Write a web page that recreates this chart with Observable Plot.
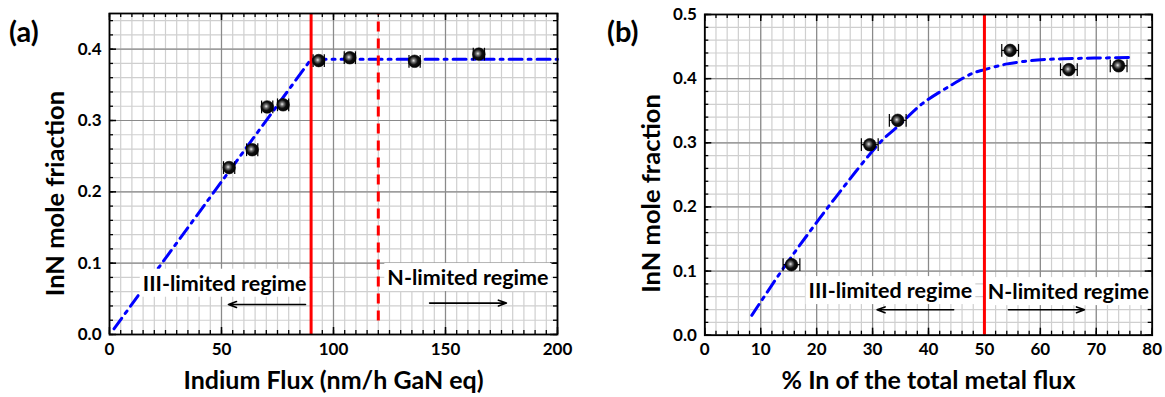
<!DOCTYPE html>
<html><head><meta charset="utf-8">
<script src="https://cdn.jsdelivr.net/npm/d3@7"></script>
<script src="https://cdn.jsdelivr.net/npm/@observablehq/plot@0.6"></script>
<style>
body{margin:0;background:#fff;font-family:Lato,sans-serif;}
#wrap{position:relative;width:1165px;height:397px;overflow:hidden;}
#a{position:absolute;left:0;top:0;}
#b{position:absolute;left:580px;top:0;}
.plabel{position:absolute;font-family:Lato,sans-serif;font-weight:bold;font-size:29px;line-height:1;}
</style></head><body>
<div id="wrap"><div id="a"></div><div id="b"></div>
<div class="plabel" style="left:9px;top:16px">(a)</div>
<div class="plabel" style="left:607px;top:16px">(b)</div></div>
<script>
// ---------- Panel (a) data ----------
const xA = [53.4, 63.7, 70.4, 77.5, 93.4, 107.3, 136.2, 164.9];
const yA = [0.234, 0.259, 0.319, 0.322, 0.384, 0.388, 0.383, 0.393];
const exA = [2.5, 2.5, 2.5, 2.5, 2.5, 2.5, 2.5, 2.5];
const fitXA = [2, 90, 200];
const fitYA = [0.008, 0.386, 0.386];
const xTicksA = [0, 50, 100, 150, 200];
const yTicksA = [0, 0.1, 0.2, 0.3, 0.4];
const limitSolidA = [90];
const limitDashedA = [120];
const labelsA = ["III-limited regime", "N-limited regime"];
const labelXA = [51.4, 160];
const labelYA = [0.071, 0.079];
const arrowFromA = [87.5, 142.9];
const arrowToA = [53.1, 177.2];
const arrowYA = [0.042, 0.044];

// ---------- Panel (b) data ----------
const xB = [15.5, 29.5, 34.5, 54.6, 65.1, 74.0];
const yB = [0.110, 0.297, 0.335, 0.444, 0.414, 0.420];
const exB = [1.5, 1.5, 1.5, 1.5, 1.5, 1.5];
const fitXB = [8.4, 14.1, 18.9, 23.4, 31.5, 34.7, 38.9, 43.9, 47.8, 50.0, 54.1, 59.5, 64.2, 69.6, 76.5];
const fitYB = [0.031, 0.105, 0.163, 0.215, 0.302, 0.327, 0.361, 0.389, 0.408, 0.414, 0.423, 0.429, 0.431, 0.432, 0.433];
const xTicksB = [0, 10, 20, 30, 40, 50, 60, 70, 80];
const yTicksB = [0, 0.1, 0.2, 0.3, 0.4, 0.5];
const limitSolidB = [50];
const labelsB = ["III-limited regime", "N-limited regime"];
const labelXB = [33.2, 65.0];
const labelYB = [0.0686, 0.067];
const arrowFromB = [44.5, 54.3];
const arrowToB = [30.8, 67.9];
const arrowYB = [0.0396, 0.0396];

const FONT = "Lato, sans-serif";
const BLUE = "#0000ff", RED = "#ff0000";

// vertical-bar symbol for error-bar caps
const vbar = { draw(ctx, size) { const h = Math.sqrt(size) * 0.9; ctx.moveTo(0, -h); ctx.lineTo(0, h); } };

function panel(o) {
  const pw = o.W - o.ml - o.mr, ph = o.H - o.mt - o.mb;
  const pts = o.px.map((x, i) => ({x, y: o.py[i], e: o.ex[i]}));
  const fit = o.fx.map((x, i) => ({x, y: o.fy[i]}));
  const ann = o.lab.map((t, i) => ({t, x: o.lx[i], y: o.ly[i]}));
  const arr = o.af.map((x1, i) => ({x1, x2: o.at[i], y: o.ay[i]}));
  const marks = [
    Plot.ruleX(o.xMinor, {stroke: "#cfcfcf", strokeWidth: 1.2}),
    Plot.ruleY(o.yMinor, {stroke: "#cfcfcf", strokeWidth: 1.2}),
    Plot.ruleX(o.xMajor, {stroke: "#8a8a8a", strokeWidth: 1.2}),
    Plot.ruleY(o.yMajor, {stroke: "#8a8a8a", strokeWidth: 1.2}),
    // inward ticks on all four sides
    Plot.ruleX(o.xMinor, {insetTop: ph - 4, stroke: "black", strokeWidth: 1.3}),
    Plot.ruleX(o.xMinor, {insetBottom: ph - 4, stroke: "black", strokeWidth: 1.3}),
    Plot.ruleX(o.xMajor, {insetTop: ph - 7, stroke: "black", strokeWidth: 1.5}),
    Plot.ruleX(o.xMajor, {insetBottom: ph - 7, stroke: "black", strokeWidth: 1.5}),
    Plot.ruleY(o.yMinor, {insetRight: pw - 4, stroke: "black", strokeWidth: 1.3}),
    Plot.ruleY(o.yMinor, {insetLeft: pw - 4, stroke: "black", strokeWidth: 1.3}),
    Plot.ruleY(o.yMajor, {insetRight: pw - 7, stroke: "black", strokeWidth: 1.5}),
    Plot.ruleY(o.yMajor, {insetLeft: pw - 7, stroke: "black", strokeWidth: 1.5}),
    Plot.line(fit, {x: "x", y: "y", stroke: BLUE, strokeWidth: 3, strokeDasharray: "13,6,3,6", curve: o.curve}),
    Plot.text(ann, {x: "x", y: "y", text: "t", fontSize: 21.5, fontWeight: "bold", fill: "black", fontFamily: FONT, ariaDescription: "annot"}),
    ...o.reds,
    Plot.arrow(arr, {x1: "x1", x2: "x2", y1: "y", y2: "y", stroke: "black", strokeWidth: 1.6, headLength: 8, headAngle: 40}),
    Plot.link(pts, {x1: d => d.x - d.e, x2: d => d.x + d.e, y1: "y", y2: "y", stroke: "black", strokeWidth: 1.2}),
    Plot.dot(pts, {x: d => d.x - d.e, y: "y", symbol: vbar, r: 4, stroke: "black", strokeWidth: 1.2}),
    Plot.dot(pts, {x: d => d.x + d.e, y: "y", symbol: vbar, r: 4, stroke: "black", strokeWidth: 1.2}),
    Plot.dot(pts, {x: "x", y: "y", r: 6.3, fill: "url(#ball" + o.id + ")", stroke: "black", strokeWidth: 0.6}),
    Plot.frame({stroke: "black", strokeWidth: 1.8}),
    Plot.axisX({ticks: o.xTicks, tickSize: 0, tickPadding: 8, fontSize: 17, fontWeight: "bold", tickFormat: d => String(d), label: null, fontFamily: FONT}),
    Plot.axisY({ticks: o.yTicks, tickSize: 0, tickPadding: 8, fontSize: 17, fontWeight: "bold", tickFormat: d3.format(".1f"), label: null, fontFamily: FONT}),
    Plot.text([o.xLabel], {frameAnchor: "bottom", dy: o.xdy, textAnchor: "middle", lineAnchor: "middle", text: d => d, fontSize: 25, fontWeight: "bold", fontFamily: FONT, fill: "black"}),
    Plot.text([o.yLabel], {frameAnchor: "left", dx: o.ydx, dy: o.ydy, rotate: -90, textAnchor: "middle", lineAnchor: "middle", text: d => d, fontSize: 25.5, fontWeight: "bold", fontFamily: FONT, fill: "black"})
  ];
  const svg = Plot.plot({
    width: o.W, height: o.H,
    marginLeft: o.ml, marginRight: o.mr, marginTop: o.mt, marginBottom: o.mb,
    x: {domain: o.xDom}, y: {domain: o.yDom},
    style: {background: "white", color: "black", fontFamily: FONT, overflow: "visible"},
    marks
  });
  // radial gradient for sphere markers
  const ns = "http://www.w3.org/2000/svg";
  const defs = document.createElementNS(ns, "defs");
  defs.innerHTML = `<radialGradient id="ball${o.id}" cx="42%" cy="45%" r="60%">
    <stop offset="0%" stop-color="#e8e8e8"/><stop offset="25%" stop-color="#707070"/>
    <stop offset="55%" stop-color="#101010"/><stop offset="100%" stop-color="#000"/></radialGradient>`;
  svg.insertBefore(defs, svg.firstChild);
  document.getElementById(o.id).appendChild(svg);
  // white boxes behind annotation texts
  svg.querySelectorAll('g[aria-description="annot"] text').forEach(t => {
    const b = t.getBBox();
    const r = document.createElementNS(ns, "rect");
    r.setAttribute("x", b.x - 3); r.setAttribute("y", b.y - 1);
    r.setAttribute("width", b.width + 6); r.setAttribute("height", b.height + 2);
    r.setAttribute("fill", "white");
    const tr = t.getAttribute("transform"); if (tr) r.setAttribute("transform", tr);
    t.parentNode.insertBefore(r, t);
  });
}

panel({
  id: "a", W: 580, H: 397, ml: 109, mr: 23, mt: 13, mb: 63,
  xDom: [0, 200], yDom: [0, 0.45],
  xMinor: d3.range(0, 200.1, 5), xMajor: d3.range(0, 200.1, 50),
  yMinor: d3.range(0, 0.4501, 0.02), yMajor: d3.range(0, 0.4501, 0.1),
  xTicks: xTicksA, yTicks: yTicksA,
  px: xA, py: yA, ex: exA, fx: fitXA, fy: fitYA, curve: "linear",
  lab: labelsA, lx: labelXA, ly: labelYA, af: arrowFromA, at: arrowToA, ay: arrowYA,
  reds: [
    Plot.ruleX(limitSolidA, {stroke: RED, strokeWidth: 3}),
    Plot.ruleX(limitDashedA, {y1: 0.019, y2: 0.45, stroke: RED, strokeWidth: 3, strokeDasharray: "10,7"})
  ],
  xLabel: "Indium Flux (nm/h GaN eq)", yLabel: "InN mole friaction",
  xdy: 46.5, ydx: -54, ydy: 19.5
});

panel({
  id: "b", W: 585, H: 397, ml: 124.3, mr: 13.3, mt: 14, mb: 62.3,
  xDom: [0, 80], yDom: [0, 0.5],
  xMinor: d3.range(0, 80.1, 2), xMajor: d3.range(0, 80.1, 10),
  yMinor: d3.range(0, 0.5001, 0.02), yMajor: d3.range(0, 0.5001, 0.1),
  xTicks: xTicksB, yTicks: yTicksB,
  px: xB, py: yB, ex: exB, fx: fitXB, fy: fitYB, curve: "catmull-rom",
  lab: labelsB, lx: labelXB, ly: labelYB, af: arrowFromB, at: arrowToB, ay: arrowYB,
  reds: [Plot.ruleX(limitSolidB, {stroke: RED, strokeWidth: 3})],
  xLabel: "% In of the total metal flux", yLabel: "InN mole fraction",
  xdy: 46, ydx: -52.8, ydy: 18.6
});
</script></body></html>
